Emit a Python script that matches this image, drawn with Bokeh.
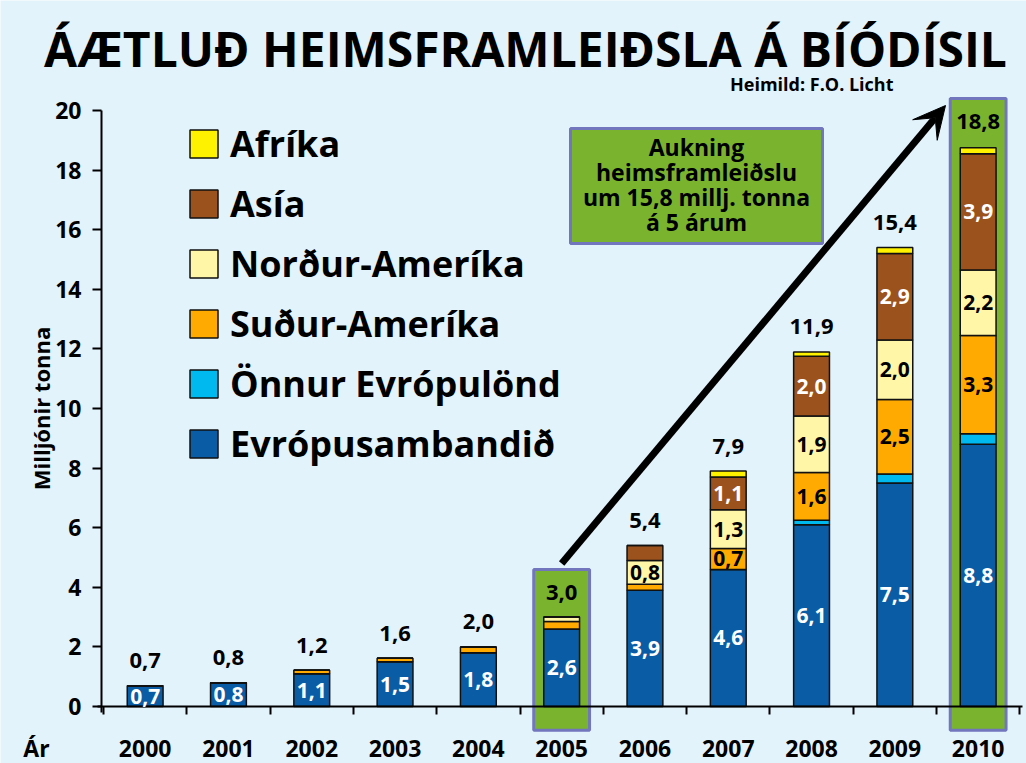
import math
from bokeh.plotting import figure
from bokeh.core.properties import value
from bokeh.models import (ColumnDataSource, FixedTicker, Legend, LegendItem, LabelSet,
                          Label, Arrow, VeeHead, Range1d, LinearAxis, BoxAnnotation)
from bokeh.embed import file_html
from bokeh.resources import INLINE

# ---------------- data ----------------
years = ["2000", "2001", "2002", "2003", "2004", "2005", "2006", "2007", "2008", "2009", "2010"]
evropusambandid = [0.7, 0.8, 1.1, 1.5, 1.8, 2.6, 3.9, 4.6, 6.1, 7.5, 8.8]
onnur_evropulond = [0, 0, 0, 0, 0, 0, 0, 0, 0.15, 0.3, 0.35]
sudur_amerika = [0, 0, 0.12, 0.12, 0.2, 0.25, 0.2, 0.7, 1.6, 2.5, 3.3]
nordur_amerika = [0, 0, 0, 0, 0, 0.15, 0.8, 1.3, 1.9, 2.0, 2.2]
asia = [0, 0, 0, 0, 0, 0, 0.5, 1.1, 2.0, 2.9, 3.9]
afrika = [0, 0, 0, 0, 0, 0, 0, 0.2, 0.15, 0.2, 0.2]
totals = [0.7, 0.8, 1.2, 1.6, 2.0, 3.0, 5.4, 7.9, 11.9, 15.4, 18.8]

series_names = ["Evrópusambandið", "Önnur Evrópulönd", "Suður-Ameríka", "Norður-Ameríka", "Asía", "Afríka"]
series_values = [evropusambandid, onnur_evropulond, sudur_amerika, nordur_amerika, asia, afrika]
series_colors = ["#0A5DA4", "#00B9EE", "#FFAA00", "#FFF6A8", "#9B521C", "#FFF200"]
label_colors = ["white", "black", "black", "black", "white", "black"]
highlight_years = ["2005", "2010"]
note_text = "Aukning\nheimsframleiðslu\num 15,8 millj. tonna\ná 5 árum"
title_text = "ÁÆTLUÐ HEIMSFRAMLEIÐSLA Á BÍÓDÍSIL"
source_text = "Heimild: F.O. Licht"
y_title = "Milljónir tonna"
x_title = "Ár"

# ---------------- style / layout ----------------
FONT = "Open Sans"
BG = "#E3F3FC"
GREEN = "#7AB42E"
BOX_BORDER = "#7176BD"
W, H = 1026, 763
PX_X = 83.3          # pixels per category
PX_Y = 29.8          # pixels per million tonnes
X_LEFT = -0.5 - 103 / PX_X
X_RIGHT = X_LEFT + W / PX_X
Y_TOP = 706 / PX_Y
Y_BOTTOM = Y_TOP - H / PX_Y


def px_x(px):
    return X_LEFT + px / PX_X


def px_y(py):
    return Y_TOP - py / PX_Y


def fmt(v):
    return f"{v:.1f}".replace(".", ",")


keys = [f"s{i}" for i in range(len(series_names))]
xs = list(range(len(years)))
data = {"x": xs}
for k, vals in zip(keys, series_values):
    data[k] = vals
source = ColumnDataSource(data)

p = figure(width=W, height=H, output_backend="svg", toolbar_location=None,
           x_range=Range1d(X_LEFT, X_RIGHT), y_range=Range1d(Y_BOTTOM, Y_TOP),
           x_axis_location=None, y_axis_location=None,
           min_border_left=0, min_border_right=0, min_border_top=0, min_border_bottom=0)
p.background_fill_color = BG
p.border_fill_color = BG
p.outline_line_color = None
p.xgrid.visible = False
p.ygrid.visible = False

# y axis, fixed at the left edge of the plotting area
ya = LinearAxis(fixed_location=px_x(101), ticker=FixedTicker(ticks=list(range(0, 21, 2))),
                bounds=(-0.2, 20))
ya.axis_line_width = 2
ya.axis_line_color = "black"
ya.major_tick_line_width = 2
ya.major_tick_out = 9
ya.major_tick_in = 0
ya.minor_tick_line_color = None
ya.major_label_standoff = 11
ya.major_label_text_font = FONT
ya.major_label_text_font_style = "bold"
ya.major_label_text_font_size = "23px"
ya.major_label_text_color = "black"
p.add_layout(ya, "left")

# x axis at y = 0
boundaries = [i - 0.5 for i in range(len(years) + 1)]
xa = LinearAxis(fixed_location=0, bounds=(px_x(97), px_x(1022)),
                ticker=FixedTicker(ticks=xs, minor_ticks=boundaries),
                major_label_overrides={i: y for i, y in zip(xs, years)})
xa.axis_line_width = 2
xa.axis_line_color = "black"
xa.major_tick_line_color = None
xa.major_tick_out = 0
xa.major_tick_in = 0
xa.minor_tick_line_width = 2
xa.minor_tick_line_color = "black"
xa.minor_tick_out = 8
xa.minor_tick_in = 0
xa.major_label_standoff = 25
xa.major_label_text_font = FONT
xa.major_label_text_font_style = "bold"
xa.major_label_text_font_size = "23px"
xa.major_label_text_color = "black"
p.add_layout(xa, "below")

# highlight boxes
hl_idx = [years.index(y) for y in highlight_years]
box_src = ColumnDataSource(dict(x=[xs[i] for i in hl_idx], top=[totals[i] + 1.6 for i in hl_idx]))
p.vbar(x="x", top="top", bottom=-0.8, width=0.67, source=box_src,
       fill_color=GREEN, line_color=BOX_BORDER, line_width=3)

# stacked bars
renderers = p.vbar_stack(keys, x="x", width=0.43, source=source,
                         fill_color=series_colors, line_color="#111111", line_width=1.5)

# segment labels
lx, ly, lt, lc = [], [], [], []
for si, vals in enumerate(series_values):
    for i, v in enumerate(vals):
        if v >= 0.7:
            base = sum(series_values[j][i] for j in range(si))
            lx.append(xs[i]); ly.append(base + v / 2); lt.append(fmt(v)); lc.append(label_colors[si])
seg_src = ColumnDataSource(dict(x=lx, y=ly, t=lt, c=lc))
p.add_layout(LabelSet(x="x", y="y", text="t", text_color="c", source=seg_src,
                      text_align="center", text_baseline="middle",
                      text_font=value(FONT), text_font_style="bold", text_font_size="21px"))

# total labels
tot_src = ColumnDataSource(dict(x=xs, y=totals, t=[fmt(v) for v in totals]))
p.add_layout(LabelSet(x="x", y="y", text="t", source=tot_src, y_offset=25,
                      text_align="center", text_baseline="middle", text_color="black",
                      text_font=value(FONT), text_font_style="bold", text_font_size="22px"))

# legend
items = [LegendItem(label=n, renderers=[r]) for n, r in zip(series_names, renderers)][::-1]
legend = Legend(items=items, location=(186, 295), orientation="vertical",
                glyph_width=35, glyph_height=35, label_height=35, spacing=11,
                label_standoff=9, padding=0, margin=0,
                background_fill_alpha=0, border_line_color=None,
                label_text_font=FONT, label_text_font_style="bold",
                label_text_font_size="36px", label_text_color="black")
p.add_layout(legend, "center")

# arrow
p.add_layout(Arrow(x_start=xs[hl_idx[0]], y_start=totals[hl_idx[0]] + 1.8,
                   x_end=px_x(945), y_end=px_y(105), line_width=7, line_color="black",
                   end=VeeHead(size=32, fill_color="black", line_color="black", line_width=1)))

# note box
p.add_layout(BoxAnnotation(left=px_x(570), right=px_x(822), top=px_y(128), bottom=px_y(243),
                           fill_color=GREEN, fill_alpha=1.0, line_color=BOX_BORDER, line_width=3,
                           line_alpha=1.0))
p.add_layout(Label(x=px_x(696), y=px_y(184), text=note_text, text_align="center",
                   text_baseline="middle", text_font=FONT, text_font_style="bold",
                   text_font_size="23px", text_line_height=0.78, text_color="black"))

# titles & axis titles
p.add_layout(Label(x=px_x(525), y=px_y(48), text=title_text, text_align="center",
                   text_baseline="alphabetic", text_font=FONT, text_font_style="bold",
                   text_font_size="48px", text_color="black"))
p.add_layout(Label(x=px_x(893), y=px_y(83), text=source_text, text_align="right",
                   text_baseline="alphabetic", text_font=FONT, text_font_style="bold",
                   text_font_size="18px", text_color="black"))
p.add_layout(Label(x=px_x(40), y=px_y(408), text=y_title, angle=math.pi / 2, text_align="center",
                   text_baseline="middle", text_font=FONT, text_font_style="bold",
                   text_font_size="22px", text_color="black"))
p.add_layout(Label(x=px_x(36), y=px_y(747), text=x_title, text_align="center",
                   text_baseline="middle", text_font=FONT, text_font_style="bold",
                   text_font_size="23px", text_color="black"))

open("out.html", "w").write(file_html(p, INLINE))
